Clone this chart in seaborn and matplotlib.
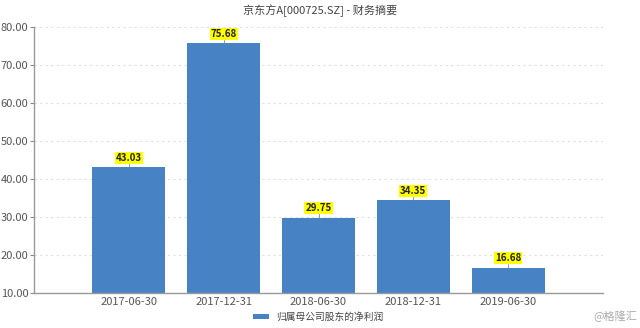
import matplotlib
matplotlib.use("Agg")
import matplotlib.pyplot as plt
import seaborn as sns
import pandas as pd

categories = ["2017-06-30", "2017-12-31", "2018-06-30", "2018-12-31", "2019-06-30"]
values = [43.03, 75.68, 29.75, 34.35, 16.68]
yticks = [10, 20, 30, 40, 50, 60, 70, 80]
series_name = "归属母公司股东的净利润"
title = "京东方A[000725.SZ] - 财务摘要"

sns.set_theme(style="white")
plt.rcParams['font.family'] = ['Noto Sans CJK SC', 'DejaVu Sans']

df = pd.DataFrame({"date": categories, "value": values})
fig = plt.figure(figsize=(6.4, 3.28), dpi=100)
ax = fig.add_axes([34/640, 1 - 293/328, (603-34)/640, (293-27)/328])

color = "#4682c4"
sns.barplot(data=df, x="date", y="value", color=color, width=0.77, ax=ax,
            saturation=1, label=series_name, edgecolor="none")
ax.set_xlim(-1, 5)
ax.set_ylim(10, 80)
ax.set_yticks(yticks)
ax.set_yticklabels([f"{v:.2f}" for v in yticks], fontsize=8, color="#555555")
ax.tick_params(axis="x", labelsize=8, colors="#555555", length=0, pad=3)
ax.tick_params(axis="y", length=3, width=0.8, color="#888888", pad=1, left=True)
ax.set_xlabel("")
ax.set_ylabel("")
ax.yaxis.grid(True, linestyle=(0, (2, 3)), color="#e0e0e0", linewidth=0.8)
ax.set_axisbelow(True)
for s in ["top", "right"]:
    ax.spines[s].set_visible(False)
ax.spines["left"].set_color("#999999")
ax.spines["bottom"].set_color("#999999")
ax.spines["left"].set_linewidth(1)
ax.spines["bottom"].set_linewidth(1)

for i, v in enumerate(values):
    ax.plot([i, i], [v, v + 1.0], color="#888888", linewidth=0.6)
    ax.annotate(f"{v:.2f}", (i, v), xytext=(0, 7), textcoords="offset points",
                ha="center", va="center", fontsize=7, fontweight="bold", color="#222222",
                bbox=dict(boxstyle="square,pad=0.1", fc="#ffff00", ec="none"))

fig.text(0.5, 1 - 11/328, title, ha="center", va="center", fontsize=8, color="#444444")
leg = ax.legend(loc="center", bbox_to_anchor=(0.5, -24/266), frameon=False,
                fontsize=7, handlelength=1.6, handleheight=0.4, labelcolor="#444444")
fig.text(0.995, 1 - 316/328, "@格隆汇", ha="right", va="center", fontsize=8, color="#aaaaaa")

fig.savefig("out.png", dpi=100)
